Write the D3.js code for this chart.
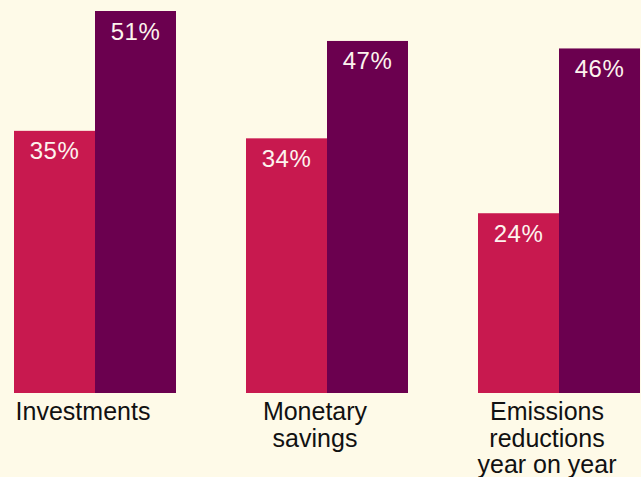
<!DOCTYPE html>
<html>
<head>
<meta charset="utf-8">
<script src="https://cdn.jsdelivr.net/npm/d3@7"></script>
<style>
  html, body { margin: 0; padding: 0; background: #fefae8; }
  svg { display: block; }
</style>
</head>
<body>
<svg id="chart" width="641" height="477"></svg>
<script>
// Categories (label lines) and the two series of percentages
const categories = ["Investments", "Monetary savings", "Emissions reductions year on year"];
const categoryLines = [["Investments"], ["Monetary", "savings"], ["Emissions", "reductions", "year on year"]];
const seriesKeys = ["first", "second"];
const firstValues = [35, 34, 24];
const secondValues = [51, 47, 46];
const seriesColors = ["#c8194f", "#6b004f"];

const width = 641, height = 477;
const baseline = 393;

const svg = d3.select("#chart");
svg.append("rect").attr("width", width).attr("height", height).attr("fill", "#fefae8");

const data = categories.map((c, i) => ({
  category: c,
  lines: categoryLines[i],
  values: [
    { key: seriesKeys[0], value: firstValues[i] },
    { key: seriesKeys[1], value: secondValues[i] }
  ]
}));

const x0 = d3.scaleBand()
  .domain(categories)
  .range([-21, 675])
  .paddingInner(70 / 232)
  .paddingOuter(35 / 232);

const x1 = d3.scaleBand()
  .domain(seriesKeys)
  .range([0, x0.bandwidth()])
  .padding(0);

const y = d3.scaleLinear()
  .domain([0, 51])
  .range([baseline, 11]);

const color = d3.scaleOrdinal().domain(seriesKeys).range(seriesColors);

const groups = svg.append("g")
  .selectAll("g")
  .data(data)
  .join("g")
  .attr("transform", d => `translate(${x0(d.category)},0)`);

groups.selectAll("rect")
  .data(d => d.values)
  .join("rect")
  .attr("x", d => x1(d.key))
  .attr("y", d => y(d.value))
  .attr("width", x1.bandwidth())
  .attr("height", d => baseline - y(d.value))
  .attr("fill", d => color(d.key));

groups.selectAll("text.value")
  .data(d => d.values)
  .join("text")
  .attr("class", "value")
  .attr("x", d => x1(d.key) + x1.bandwidth() / 2)
  .attr("y", d => y(d.value) + 28.5)
  .attr("text-anchor", "middle")
  .attr("fill", "#fdf3ee")
  .style("font-family", "'Liberation Sans', Arial, sans-serif")
  .style("font-size", "24px")
  .style("letter-spacing", "0.5px")
  .text(d => d.value + "%");

// Category labels under each pair of bars
groups.append("text")
  .attr("class", "category")
  .attr("text-anchor", "middle")
  .attr("fill", "#111")
  .style("font-family", "'Liberation Sans', Arial, sans-serif")
  .style("font-size", "25px")
  .selectAll("tspan")
  .data(d => d.lines)
  .join("tspan")
  .attr("x", x0.bandwidth() / 2 - 12)
  .attr("y", (d, i) => 420 + i * 26.5)
  .text(d => d);
</script>
</body>
</html>
